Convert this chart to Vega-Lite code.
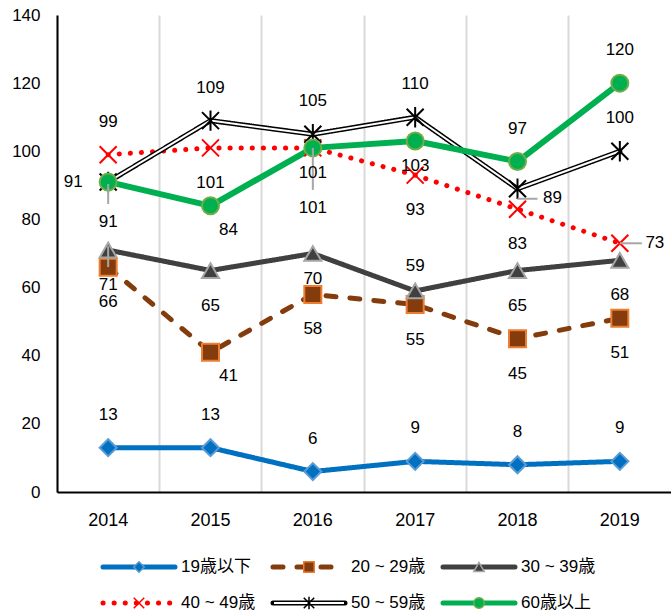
{
  "$schema": "https://vega.github.io/schema/vega-lite/v6.json",
  "autosize": {"type": "none"},
  "width": 614,
  "height": 477,
  "padding": {"left": 57, "top": 15, "right": 0, "bottom": 123},
  "config": {"font": "Liberation Sans, Noto Sans CJK JP", "view": {"stroke": null}},
  "data": {"values": [
    {"series": "19歳以下", "year": "2014", "value": 13},
    {"series": "19歳以下", "year": "2015", "value": 13},
    {"series": "19歳以下", "year": "2016", "value": 6},
    {"series": "19歳以下", "year": "2017", "value": 9},
    {"series": "19歳以下", "year": "2018", "value": 8},
    {"series": "19歳以下", "year": "2019", "value": 9},
    {"series": "20 ~ 29歳", "year": "2014", "value": 66},
    {"series": "20 ~ 29歳", "year": "2015", "value": 41},
    {"series": "20 ~ 29歳", "year": "2016", "value": 58},
    {"series": "20 ~ 29歳", "year": "2017", "value": 55},
    {"series": "20 ~ 29歳", "year": "2018", "value": 45},
    {"series": "20 ~ 29歳", "year": "2019", "value": 51},
    {"series": "30 ~ 39歳", "year": "2014", "value": 71},
    {"series": "30 ~ 39歳", "year": "2015", "value": 65},
    {"series": "30 ~ 39歳", "year": "2016", "value": 70},
    {"series": "30 ~ 39歳", "year": "2017", "value": 59},
    {"series": "30 ~ 39歳", "year": "2018", "value": 65},
    {"series": "30 ~ 39歳", "year": "2019", "value": 68},
    {"series": "40 ~ 49歳", "year": "2014", "value": 99},
    {"series": "40 ~ 49歳", "year": "2015", "value": 101},
    {"series": "40 ~ 49歳", "year": "2016", "value": 101},
    {"series": "40 ~ 49歳", "year": "2017", "value": 93},
    {"series": "40 ~ 49歳", "year": "2018", "value": 83},
    {"series": "40 ~ 49歳", "year": "2019", "value": 73},
    {"series": "50 ~ 59歳", "year": "2014", "value": 91},
    {"series": "50 ~ 59歳", "year": "2015", "value": 109},
    {"series": "50 ~ 59歳", "year": "2016", "value": 105},
    {"series": "50 ~ 59歳", "year": "2017", "value": 110},
    {"series": "50 ~ 59歳", "year": "2018", "value": 89},
    {"series": "50 ~ 59歳", "year": "2019", "value": 100},
    {"series": "60歳以上", "year": "2014", "value": 91},
    {"series": "60歳以上", "year": "2015", "value": 84},
    {"series": "60歳以上", "year": "2016", "value": 101},
    {"series": "60歳以上", "year": "2017", "value": 103},
    {"series": "60歳以上", "year": "2018", "value": 97},
    {"series": "60歳以上", "year": "2019", "value": 120}
  ]},
  "resolve": {"scale": {"x": "independent", "y": "independent"}},
  "layer": [
    {
      "encoding": {
        "x": {"field": "year", "type": "ordinal",
          "scale": {"type": "band", "paddingInner": 0, "paddingOuter": 0},
          "axis": {"title": null, "labelAngle": 0, "bandPosition": 0, "grid": true, "gridColor": "#D9D9D9", "gridWidth": 2,
            "ticks": false, "labelPadding": 19, "domainColor": "#000000", "domainWidth": 2,
            "labelFontSize": 18, "labelColor": "#000000", "labelFont": "Liberation Sans"}},
        "y": {"field": "value", "type": "quantitative",
          "scale": {"domain": [0, 140], "nice": false},
          "axis": {"title": null, "values": [0, 20, 40, 60, 80, 100, 120, 140], "grid": false, "ticks": false,
            "domainColor": "#000000", "domainWidth": 2, "labelFontSize": 17, "labelPadding": 17,
            "labelColor": "#000000", "labelFont": "Liberation Sans"}}
      },
      "layer": [
        {
          "transform": [{"filter": "datum.series != '60歳以上'"}],
          "mark": {"type": "line", "strokeWidth": 5, "strokeCap": "round", "strokeJoin": "round"},
          "encoding": {
            "color": {"field": "series", "type": "nominal", "legend": null,
              "scale": {"domain": ["19歳以下", "20 ~ 29歳", "30 ~ 39歳", "40 ~ 49歳", "50 ~ 59歳", "60歳以上"],
                "range": ["#0070C0", "#843C0C", "#404040", "#FF0000", "#000000", "#00B050"]}},
            "strokeDash": {"field": "series", "type": "nominal", "legend": null,
              "scale": {"domain": ["19歳以下", "20 ~ 29歳", "30 ~ 39歳", "40 ~ 49歳", "50 ~ 59歳", "60歳以上"],
                "range": [[1, 0], [10, 14], [1, 0], [0.1, 11], [1, 0], [1, 0]]}}
          }
        },
        {
          "transform": [{"filter": "datum.series == '50 ~ 59歳'"}],
          "mark": {"type": "line", "strokeWidth": 2, "color": "#FFFFFF", "strokeJoin": "miter"},
          "encoding": {}
        },
        {
          "transform": [{"filter": "datum.series == '60歳以上'"}],
          "mark": {"type": "line", "strokeWidth": 6, "color": "#00B050", "strokeCap": "round", "strokeJoin": "round"},
          "encoding": {}
        },
        {
          "mark": {"type": "point", "filled": true, "opacity": 1, "size": 289, "strokeWidth": 2},
          "encoding": {
            "shape": {"field": "series", "type": "nominal", "legend": null,
              "scale": {"domain": ["19歳以下", "20 ~ 29歳", "30 ~ 39歳", "40 ~ 49歳", "50 ~ 59歳", "60歳以上"],
                "range": ["diamond", "square", "triangle-up", "M-1,-1L1,1M-1,1L1,-1", "M-1,-1L1,1M-1,1L1,-1M0,-1.2L0,1.2", "circle"]}},
            "fill": {"field": "series", "type": "nominal", "legend": null,
              "scale": {"domain": ["19歳以下", "20 ~ 29歳", "30 ~ 39歳", "40 ~ 49歳", "50 ~ 59歳", "60歳以上"],
                "range": ["#0070C0", "#843C0C", "#404040", "transparent", "transparent", "#00B050"]}},
            "stroke": {"field": "series", "type": "nominal", "legend": null,
              "scale": {"domain": ["19歳以下", "20 ~ 29歳", "30 ~ 39歳", "40 ~ 49歳", "50 ~ 59歳", "60歳以上"],
                "range": ["#5B9BD5", "#ED7D31", "#A5A5A5", "#FF0000", "#000000", "#70AD47"]}}
          }
        },
        {
          "transform": [{"filter": "datum.series == '50 ~ 59歳' && datum.year == '2014'"}],
          "mark": {"type": "rule", "color": "#A6A6A6", "strokeWidth": 2, "yOffset": 2, "y2Offset": 22},
          "encoding": {"y2": {"field": "value"}}
        },
        {
          "transform": [{"filter": "datum.series == '30 ~ 39歳' && datum.year == '2014'"}],
          "mark": {"type": "rule", "color": "#A6A6A6", "strokeWidth": 2, "yOffset": -4, "y2Offset": 17},
          "encoding": {"y2": {"field": "value"}}
        },
        {
          "transform": [{"filter": "datum.series == '40 ~ 49歳' && datum.year == '2016'"}],
          "mark": {"type": "rule", "color": "#A6A6A6", "strokeWidth": 2, "yOffset": 0, "y2Offset": 42},
          "encoding": {"y2": {"field": "value"}}
        },
        {
          "transform": [{"filter": "datum.series == '50 ~ 59歳' && datum.year == '2018'"}],
          "mark": {"type": "rule", "color": "#A6A6A6", "strokeWidth": 2, "yOffset": 10, "x2Offset": 20},
          "encoding": {"x2": {"field": "year"}}
        },
        {
          "transform": [{"filter": "datum.series == '40 ~ 49歳' && datum.year == '2019'"}],
          "mark": {"type": "rule", "color": "#A6A6A6", "strokeWidth": 2, "xOffset": 0, "x2Offset": 22},
          "encoding": {"x2": {"field": "year"}}
        },
        {
          "transform": [{"filter": "datum.series == '19歳以下' || indexof(['40 ~ 49歳|2014','50 ~ 59歳|2015','50 ~ 59歳|2016','50 ~ 59歳|2017','50 ~ 59歳|2019','60歳以上|2018','60歳以上|2019'], datum.series + '|' + datum.year) >= 0"}],
          "mark": {"type": "text", "fontSize": 17, "color": "#000000", "baseline": "middle", "align": "center", "dy": -33},
          "encoding": {"text": {"field": "value", "type": "quantitative"}}
        },
        {
          "transform": [{"filter": "indexof(['30 ~ 39歳|2017'], datum.series + '|' + datum.year) >= 0"}],
          "mark": {"type": "text", "fontSize": 17, "color": "#000000", "baseline": "middle", "align": "center", "dy": -25},
          "encoding": {"text": {"field": "value", "type": "quantitative"}}
        },
        {
          "transform": [{"filter": "indexof(['20 ~ 29歳|2014','20 ~ 29歳|2016','20 ~ 29歳|2017','20 ~ 29歳|2018','20 ~ 29歳|2019','30 ~ 39歳|2014','30 ~ 39歳|2015','30 ~ 39歳|2018','30 ~ 39歳|2019','40 ~ 49歳|2015','40 ~ 49歳|2017','40 ~ 49歳|2018'], datum.series + '|' + datum.year) >= 0"}],
          "mark": {"type": "text", "fontSize": 17, "color": "#000000", "baseline": "middle", "align": "center", "dy": 35},
          "encoding": {"text": {"field": "value", "type": "quantitative"}}
        },
        {
          "transform": [{"filter": "indexof(['50 ~ 59歳|2014'], datum.series + '|' + datum.year) >= 0"}],
          "mark": {"type": "text", "fontSize": 17, "color": "#000000", "baseline": "middle", "align": "center", "dy": 40},
          "encoding": {"text": {"field": "value", "type": "quantitative"}}
        },
        {
          "transform": [{"filter": "indexof(['30 ~ 39歳|2016','60歳以上|2016','60歳以上|2017'], datum.series + '|' + datum.year) >= 0"}],
          "mark": {"type": "text", "fontSize": 17, "color": "#000000", "baseline": "middle", "align": "center", "dy": 25},
          "encoding": {"text": {"field": "value", "type": "quantitative"}}
        },
        {
          "transform": [{"filter": "indexof(['20 ~ 29歳|2015','60歳以上|2015'], datum.series + '|' + datum.year) >= 0"}],
          "mark": {"type": "text", "fontSize": 17, "color": "#000000", "baseline": "middle", "align": "center", "dx": 18, "dy": 24},
          "encoding": {"text": {"field": "value", "type": "quantitative"}}
        },
        {
          "transform": [{"filter": "indexof(['40 ~ 49歳|2016'], datum.series + '|' + datum.year) >= 0"}],
          "mark": {"type": "text", "fontSize": 17, "color": "#000000", "baseline": "middle", "align": "center", "dy": 60},
          "encoding": {"text": {"field": "value", "type": "quantitative"}}
        },
        {
          "transform": [{"filter": "indexof(['60歳以上|2014'], datum.series + '|' + datum.year) >= 0"}],
          "mark": {"type": "text", "fontSize": 17, "color": "#000000", "baseline": "middle", "align": "center", "dx": -35},
          "encoding": {"text": {"field": "value", "type": "quantitative"}}
        },
        {
          "transform": [{"filter": "indexof(['50 ~ 59歳|2018'], datum.series + '|' + datum.year) >= 0"}],
          "mark": {"type": "text", "fontSize": 17, "color": "#000000", "baseline": "middle", "align": "center", "dx": 35, "dy": 9},
          "encoding": {"text": {"field": "value", "type": "quantitative"}}
        },
        {
          "transform": [{"filter": "indexof(['40 ~ 49歳|2019'], datum.series + '|' + datum.year) >= 0"}],
          "mark": {"type": "text", "fontSize": 17, "color": "#000000", "baseline": "middle", "align": "center", "dx": 35},
          "encoding": {"text": {"field": "value", "type": "quantitative"}}
        }
      ]
    },
    {
      "transform": [
        {"filter": "datum.year == '2014'"},
        {"window": [{"op": "row_number", "as": "idx"}], "sort": [{"field": "series", "order": "ascending"}]},
        {"calculate": "(datum.idx - 1) % 3", "as": "col"},
        {"calculate": "floor((datum.idx - 1) / 3)", "as": "row"}
      ],
      "encoding": {
        "x": {"field": "col", "type": "quantitative", "scale": {"domain": [0, 2], "range": [46, 386], "nice": false, "zero": false}, "axis": null},
        "y": {"field": "row", "type": "quantitative", "scale": {"domain": [0, 1], "range": [552, 588], "nice": false, "zero": false}, "axis": null}
      },
      "layer": [
        {
          "mark": {"type": "rule", "strokeWidth": 5, "strokeCap": "round", "x2Offset": 72},
          "encoding": {
            "x2": {"field": "col"},
            "color": {"field": "series", "type": "nominal", "legend": null},
            "strokeDash": {"field": "series", "type": "nominal", "legend": null}
          }
        },
        {
          "transform": [{"filter": "datum.series == '50 ~ 59歳'"}],
          "mark": {"type": "rule", "strokeWidth": 2, "color": "#FFFFFF", "xOffset": 1, "x2Offset": 71},
          "encoding": {"x2": {"field": "col"}}
        },
        {
          "mark": {"type": "point", "filled": true, "opacity": 1, "size": 110, "strokeWidth": 1.5, "xOffset": 36},
          "encoding": {
            "shape": {"field": "series", "type": "nominal", "legend": null},
            "fill": {"field": "series", "type": "nominal", "legend": null},
            "stroke": {"field": "series", "type": "nominal", "legend": null}
          }
        },
        {
          "mark": {"type": "text", "fontSize": 17, "color": "#000000", "align": "left", "baseline": "middle", "dx": 78},
          "encoding": {"text": {"field": "series", "type": "nominal"}}
        }
      ]
    }
  ]
}
